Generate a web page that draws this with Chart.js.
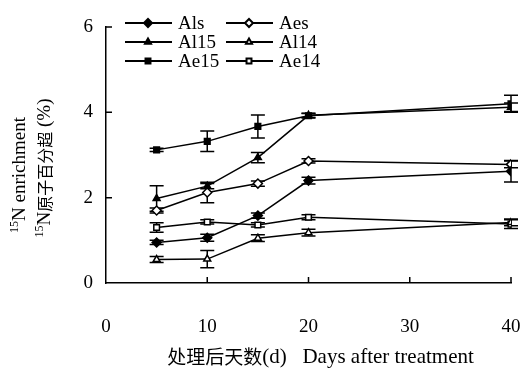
<!DOCTYPE html>
<html>
<head>
<meta charset="utf-8">
<script src="https://cdn.jsdelivr.net/npm/chart.js@4/dist/chart.umd.min.js"></script>
<style>
  body { margin: 0; background: #fff; }
</style>
</head>
<body>
<canvas id="c" width="526" height="372"></canvas>
<script>
// days after treatment
const days = [5, 10, 15, 20, 40];

// 15N enrichment (%) and +/- error per series
const als  = [0.95, 1.06, 1.58, 2.40, 2.62];
const aes  = [1.70, 2.12, 2.33, 2.86, 2.78];
const al15 = [1.98, 2.27, 2.94, 3.93, 4.12];
const al14 = [0.55, 0.56, 1.05, 1.18, 1.42];
const ae15 = [3.12, 3.32, 3.67, 3.92, 4.20];
const ae14 = [1.30, 1.43, 1.36, 1.54, 1.38];

const alsErr  = [0.05, 0.08, 0.06, 0.08, 0.25];
const aesErr  = [0.06, 0.24, 0.06, 0.05, 0.08];
const al15Err = [0.30, 0.06, 0.12, 0.05, 0.10];
const al14Err = [0.07, 0.20, 0.08, 0.08, 0.08];
const ae15Err = [0.04, 0.24, 0.27, 0.05, 0.20];
const ae14Err = [0.11, 0.05, 0.05, 0.06, 0.10];

const xTicks = [0, 10, 20, 30, 40];
const yTicks = [0, 2, 4, 6];

const SERIF = "'Liberation Serif', 'Times New Roman', serif";
const CJK = "'Noto Sans CJK SC', sans-serif";

Chart.defaults.font.family = SERIF;
Chart.defaults.color = '#000';

function series(label, values, errs, style, open) {
  return {
    label: label,
    data: values.map((v, i) => ({ x: days[i], y: v })),
    errors: errs,
    borderColor: '#000',
    borderWidth: 1.5,
    pointStyle: style,
    pointRadius: style === 'rectRot' ? 4.5 : 4,
    pointBorderColor: '#000',
    pointBorderWidth: 1.5,
    pointBackgroundColor: open ? '#fff' : '#000',
    tension: 0,
  };
}

// runs of text with different fonts, centred on (cx, cy)
function drawRuns(ctx, runs, cx, cy) {
  let w = 0;
  runs.forEach(r => { ctx.font = r.font; w += ctx.measureText(r.t).width; });
  let x = cx - w / 2;
  ctx.textAlign = 'left';
  ctx.textBaseline = 'middle';
  runs.forEach(r => {
    ctx.font = r.font;
    ctx.fillText(r.t, x, cy + (r.dy || 0));
    x += ctx.measureText(r.t).width;
  });
}

const extras = {
  id: 'extras',
  beforeDatasetsDraw(chart) {
    const ctx = chart.ctx;
    const y = chart.scales.y;
    ctx.save();
    ctx.strokeStyle = '#000';
    ctx.lineWidth = 1.5;
    chart.data.datasets.forEach((ds, di) => {
      const meta = chart.getDatasetMeta(di);
      meta.data.forEach((pt, i) => {
        const v = ds.data[i].y, e = ds.errors[i];
        const top = y.getPixelForValue(v + e);
        const bot = y.getPixelForValue(v - e);
        ctx.beginPath();
        ctx.moveTo(pt.x, top); ctx.lineTo(pt.x, bot);
        ctx.moveTo(pt.x - 7, top); ctx.lineTo(pt.x + 7, top);
        ctx.moveTo(pt.x - 7, bot); ctx.lineTo(pt.x + 7, bot);
        ctx.stroke();
      });
    });
    ctx.restore();
  },
  afterDraw(chart) {
    const ctx = chart.ctx;
    const { x, y } = chart.scales;
    ctx.save();
    ctx.strokeStyle = '#000';
    ctx.fillStyle = '#000';
    ctx.lineWidth = 1.5;

    // inward ticks
    ctx.beginPath();
    xTicks.slice(1).forEach(t => {
      const px = x.getPixelForValue(t);
      ctx.moveTo(px, y.bottom); ctx.lineTo(px, y.bottom - 6);
    });
    yTicks.slice(1).forEach(t => {
      const py = y.getPixelForValue(t);
      ctx.moveTo(x.left, py); ctx.lineTo(x.left + 6, py);
    });
    ctx.stroke();

    // legend: 2 columns x 3 rows
    chart.data.datasets.forEach((ds, i) => {
      const col = i % 2, row = Math.floor(i / 2);
      const x0 = col === 0 ? 125 : 226;
      const ly = 23 + row * 19;
      ctx.lineWidth = 2;
      ctx.beginPath();
      ctx.moveTo(x0, ly); ctx.lineTo(x0 + 47, ly);
      ctx.stroke();
      ctx.fillStyle = ds.pointBackgroundColor;
      Chart.helpers.drawPoint(ctx, {
        pointStyle: ds.pointStyle,
        radius: ds.pointRadius - 0.5,
        borderWidth: 1.5,
      }, x0 + 23, ly);
      ctx.fillStyle = '#000';
      ctx.font = '19px ' + SERIF;
      ctx.textAlign = 'left';
      ctx.textBaseline = 'middle';
      ctx.fillText(ds.label, x0 + 53, ly + 1);
    });

    // axis titles
    ctx.fillStyle = '#000';
    drawRuns(ctx, [
      { t: '处理后天数', font: '19px ' + CJK },
      { t: '(d)   Days after treatment', font: '21px ' + SERIF },
    ], (x.left + x.right) / 2 + 12, 357);

    ctx.translate(20, 175);
    ctx.rotate(-Math.PI / 2);
    drawRuns(ctx, [
      { t: '15', font: '12px ' + SERIF, dy: -5 },
      { t: 'N enrichment', font: '19px ' + SERIF },
    ], 0, 0);
    ctx.rotate(Math.PI / 2);
    ctx.translate(25, -7);
    ctx.rotate(-Math.PI / 2);
    drawRuns(ctx, [
      { t: '15', font: '12px ' + SERIF, dy: -5 },
      { t: 'N', font: '19px ' + SERIF },
      { t: '原子百分超', font: '16px ' + CJK },
      { t: ' (%)', font: '19px ' + SERIF },
    ], 0, 0);
    ctx.restore();
  }
};

new Chart(document.getElementById('c'), {
  type: 'line',
  data: {
    datasets: [
      series('Als', als, alsErr, 'rectRot', false),
      series('Aes', aes, aesErr, 'rectRot', true),
      series('Al15', al15, al15Err, 'triangle', false),
      series('Al14', al14, al14Err, 'triangle', true),
      series('Ae15', ae15, ae15Err, 'rect', false),
      series('Ae14', ae14, ae14Err, 'rect', true),
    ],
  },
  options: {
    responsive: false,
    animation: false,
    devicePixelRatio: 1,
    layout: { padding: { top: 27, right: 15, left: 0, bottom: 0 } },
    plugins: { legend: { display: false }, tooltip: { enabled: false } },
    scales: {
      x: {
        type: 'linear',
        min: 0, max: 40,
        afterBuildTicks: s => { s.ticks = xTicks.map(v => ({ value: v })); },
        afterFit: s => { s.height = 89; s.paddingLeft = 0; s.paddingRight = 0; },
        grid: { display: true, drawOnChartArea: false, drawTicks: false },
        border: { color: '#000', width: 1.5 },
        ticks: { font: { size: 19 }, padding: 33, maxRotation: 0 },
      },
      y: {
        min: 0, max: 6,
        afterBuildTicks: s => { s.ticks = yTicks.map(v => ({ value: v })); },
        afterFit: s => { s.width = 106; s.paddingTop = 0; s.paddingBottom = 0; },
        grid: { display: true, drawOnChartArea: false, drawTicks: false },
        border: { color: '#000', width: 1.5 },
        ticks: { font: { size: 19 }, padding: 13 },
      },
    },
  },
  plugins: [extras],
});
</script>
</body>
</html>
